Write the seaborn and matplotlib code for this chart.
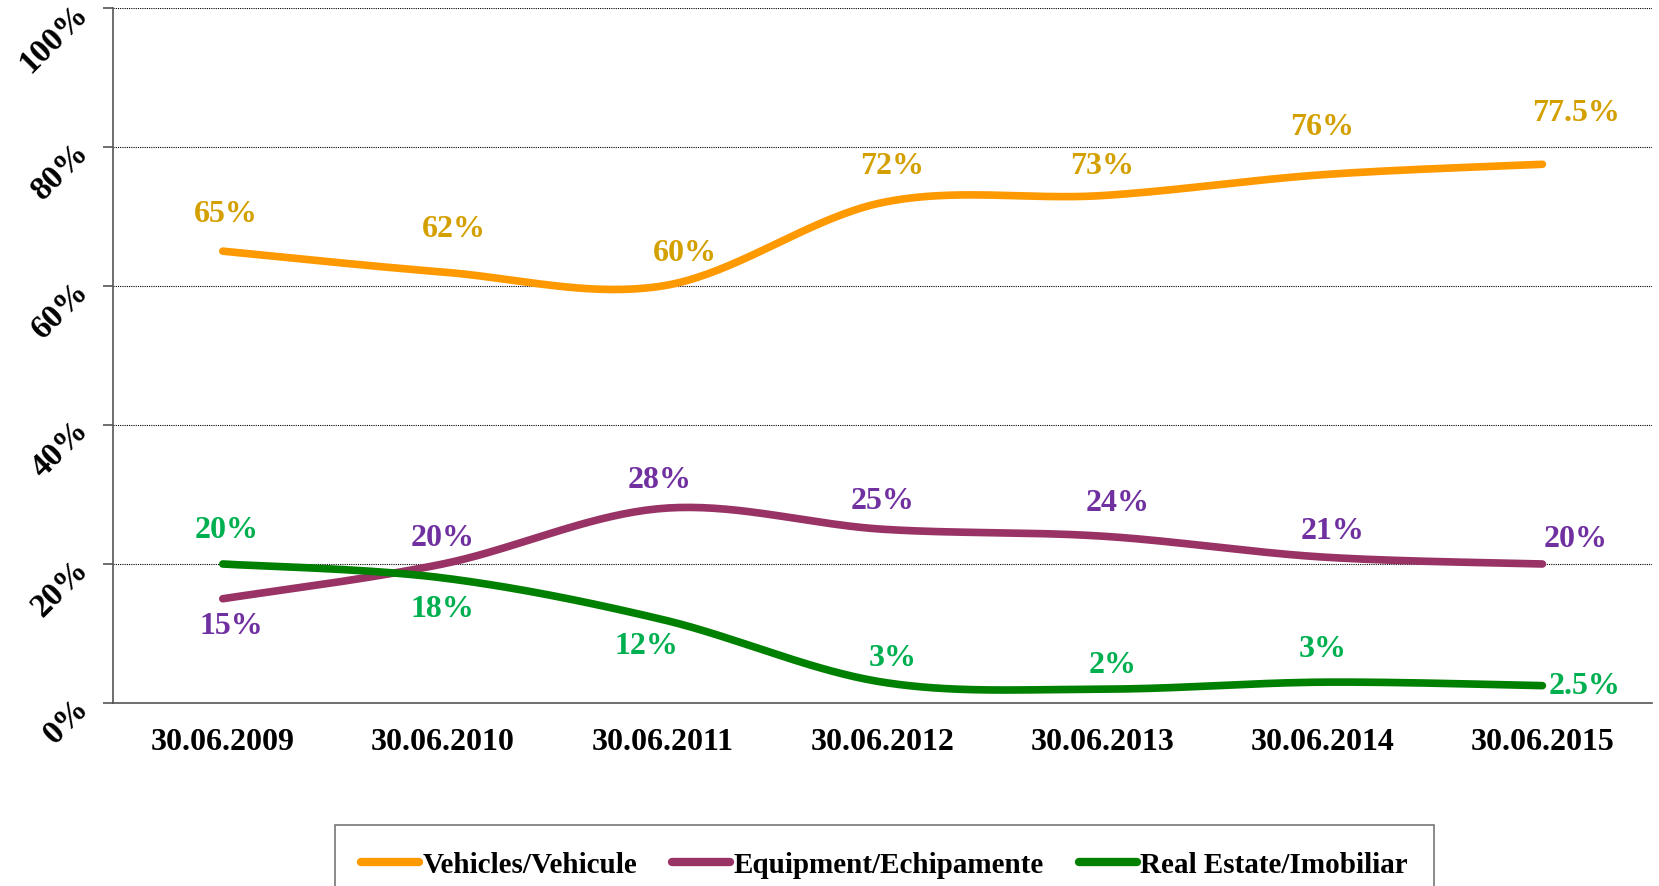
import numpy as np
import pandas as pd
import matplotlib
matplotlib.use("Agg")
import matplotlib.pyplot as plt
import seaborn as sns

# Data
dates = ["30.06.2009", "30.06.2010", "30.06.2011", "30.06.2012",
         "30.06.2013", "30.06.2014", "30.06.2015"]
vehicles = [65, 62, 60, 72, 73, 76, 77.5]
equipment = [15, 20, 28, 25, 24, 21, 20]
real_estate = [20, 18, 12, 3, 2, 3, 2.5]
series_names = ["Vehicles/Vehicule", "Equipment/Echipamente", "Real Estate/Imobiliar"]

line_colors = ["#FF9900", "#993366", "#008000"]
label_colors = ["#D4A000", "#7030A0", "#00B050"]

# label offsets in points (layout only)
offsets = [
    [(2, 27), (8, 31), (16, 24), (7, 27), (0, 22), (0, 35), (24, 37)],
    [(6, -19), (0, 19), (-2, 21), (0, 21), (11, 24), (7, 19), (24, 18)],
    [(3, 25), (0, -22), (-12, -19), (7, 18), (7, 18), (0, 24), (30, 0)],
]


def smooth(vals, n=40):
    # Catmull-Rom curve through the points, like Excel "smoothed line"
    x = np.arange(len(vals), dtype=float)
    y = np.asarray(vals, dtype=float)
    px = np.r_[x[0], x, x[-1]]
    py = np.r_[y[0], y, y[-1]]
    xs, ys = [], []
    t = np.linspace(0, 1, n)
    for i in range(1, len(px) - 2):
        for p, out in ((px, xs), (py, ys)):
            p0, p1, p2, p3 = p[i - 1], p[i], p[i + 1], p[i + 2]
            out.append(0.5 * (2 * p1 + (-p0 + p2) * t
                              + (2 * p0 - 5 * p1 + 4 * p2 - p3) * t ** 2
                              + (-p0 + 3 * p1 - 3 * p2 + p3) * t ** 3))
    return np.concatenate(xs), np.concatenate(ys)


frames = []
for name, vals in zip(series_names, [vehicles, equipment, real_estate]):
    sx, sy = smooth(vals)
    frames.append(pd.DataFrame({"x": sx, "y": sy, "series": name}))
df = pd.concat(frames, ignore_index=True)

sns.set_theme(style="white")
plt.rcParams["font.family"] = ["Liberation Serif", "DejaVu Serif"]
plt.rcParams["font.weight"] = "bold"
plt.rcParams["text.color"] = "black"
plt.rcParams["xtick.color"] = "black"
plt.rcParams["ytick.color"] = "black"

fig = plt.figure(figsize=(16.59, 8.87), dpi=100)
ax = fig.add_axes([0.068, 0.2063, 0.928, 0.7837])

sns.lineplot(data=df, x="x", y="y", hue="series", hue_order=series_names,
             palette=line_colors, linewidth=5.5, sort=False, estimator=None,
             legend=False, ax=ax, solid_capstyle="round")

for k, vals in enumerate([vehicles, equipment, real_estate]):
    for i, v in enumerate(vals):
        txt = f"{v:g}%"
        ax.annotate(txt, xy=(i, v), xytext=offsets[k][i], textcoords="offset points",
                    ha="center", va="center", fontsize=23, fontweight="bold",
                    color=label_colors[k])

ax.set_xlim(-0.5, len(dates) - 0.5)
ax.set_ylim(0, 100)
ax.set_xticks(range(len(dates)))
ax.set_xticklabels(dates, fontsize=23, fontweight="bold", color="black")
ax.set_xticks(np.arange(-0.5, len(dates), 1.0), minor=True)
ax.tick_params(axis="x", which="major", length=0, pad=17)
ax.tick_params(axis="x", which="minor", length=10, width=1.2, color="#555555", direction="out")

yt = [0, 20, 40, 60, 80, 100]
ax.set_yticks(yt)
ax.set_yticklabels([f"{v}%" for v in yt], fontsize=24, fontweight="bold", color="black",
                   rotation=45, rotation_mode="anchor", ha="right", va="center")
ax.tick_params(axis="y", length=7, width=1.2, color="#555555", direction="out", left=True, pad=14)

ax.grid(False)
for v in yt[1:]:
    ax.axhline(v, color="black", linestyle=(0, (1, 1)), linewidth=0.8, zorder=0)

ax.set_xlabel("")
ax.set_ylabel("")
for s in ["top", "right"]:
    ax.spines[s].set_visible(False)
for s in ["left", "bottom"]:
    ax.spines[s].set_color("#555555")
    ax.spines[s].set_linewidth(1.2)

handles = [plt.Line2D([], [], color=c, linewidth=6, solid_capstyle="round") for c in line_colors]
leg = fig.legend(handles, series_names, loc="upper center", bbox_to_anchor=(0.533, 0.085),
                 ncol=3, frameon=True, fancybox=False, handlelength=2.0,
                 handletextpad=0.1, columnspacing=1.2, borderpad=0.9,
                 prop={"family": "Liberation Serif", "weight": "bold", "size": 21})
leg.get_frame().set_edgecolor("#555555")
leg.get_frame().set_linewidth(1.2)
for t in leg.get_texts():
    t.set_color("black")

fig.savefig("out.png", dpi=100)
